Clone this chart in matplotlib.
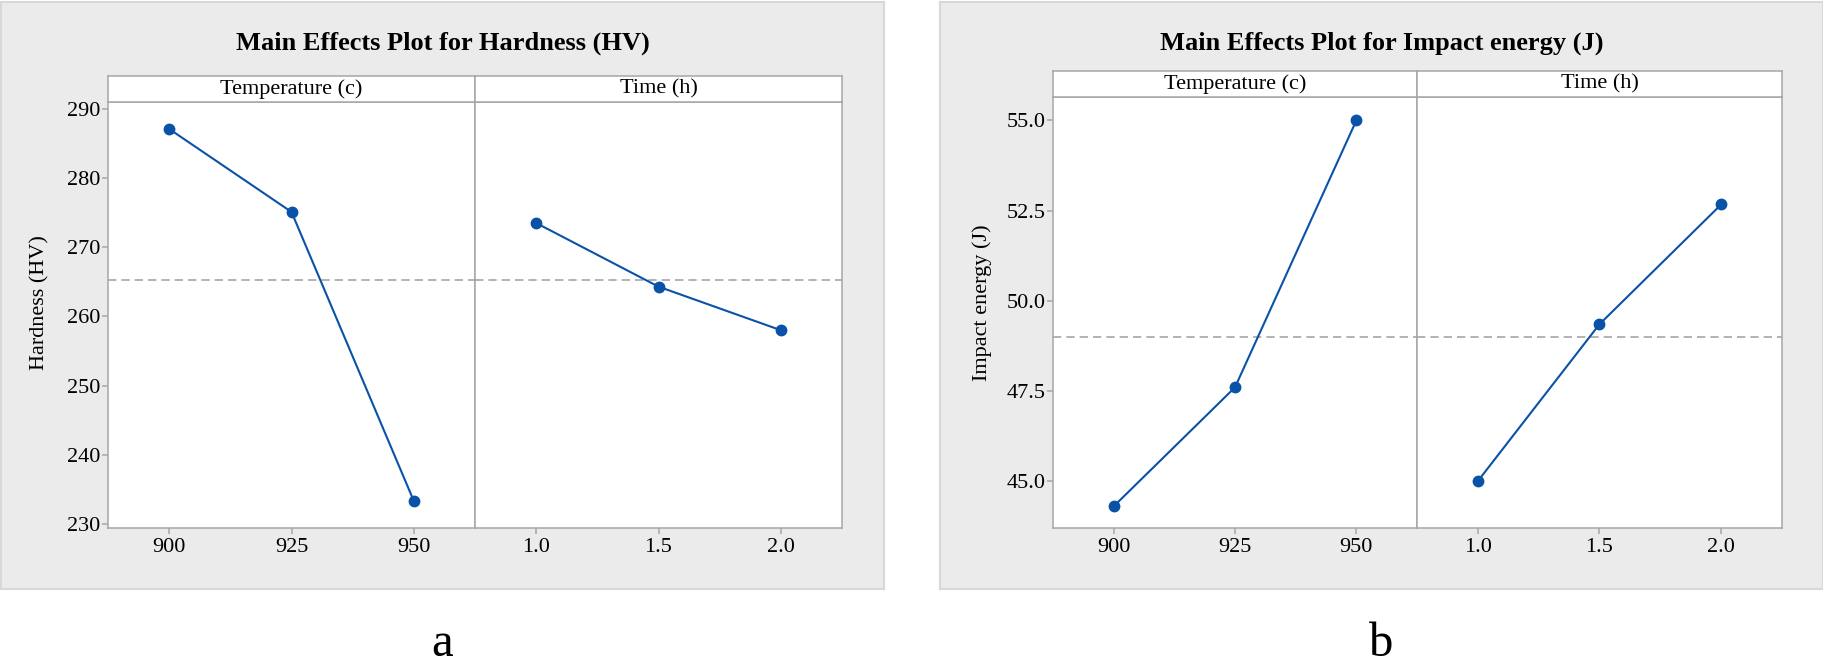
import numpy as np
import matplotlib.pyplot as plt
from matplotlib.patches import Rectangle

plt.rcParams['font.family'] = ['Liberation Serif', 'DejaVu Serif']

# data
temp_levels = [900, 925, 950]
time_levels = [1.0, 1.5, 2.0]
temp_labels = ['900', '925', '950']
time_labels = ['1.0', '1.5', '2.0']

hardness_temp = [287.1, 275.1, 233.3]
hardness_time = [273.5, 264.3, 258.0]
hardness_ticks = [230, 240, 250, 260, 270, 280, 290]
hardness_tick_labels = ['230', '240', '250', '260', '270', '280', '290']

impact_temp = [44.3, 47.6, 55.0]
impact_time = [45.0, 49.35, 52.67]
impact_ticks = [45.0, 47.5, 50.0, 52.5, 55.0]
impact_tick_labels = ['45.0', '47.5', '50.0', '52.5', '55.0']

W, H = 1824, 667
BLUE = '#0A52A8'
GREY = '#A6A6A6'
PANEL = '#EBEBEB'

fig = plt.figure(figsize=(W / 100, H / 100), dpi=100)


def px_axes(x0, y0, x1, y1):
    # pixel box (top-left origin) -> figure axes
    return fig.add_axes([x0 / W, 1 - y1 / H, (x1 - x0) / W, (y1 - y0) / H])


def style(ax):
    for s in ax.spines.values():
        s.set_color(GREY)
        s.set_linewidth(1.1)
    ax.tick_params(direction='out', length=4.3, width=1.1, color=GREY,
                   labelsize=16, labelcolor='black')
    ax.tick_params(axis='x', pad=3)
    ax.tick_params(axis='y', pad=1)


def draw_panel(gx0, gx1, x0, xdiv, x1, strip_top, strip_bot, bottom,
               title, ylabel, ylabel_x, t_vals, h_vals, ylim, yticks, ylabels, tag):
    fig.patches.append(Rectangle((gx0 / W, 1 - 589 / H), (gx1 - gx0) / W, 587 / H,
                                 transform=fig.transFigure, facecolor=PANEL,
                                 edgecolor='#D8D8D8', lw=1.5, zorder=-1))
    fig.text((gx0 + gx1) / 2 / W, 1 - 43 / H, title, ha='center', va='center',
             fontsize=19, fontweight='bold')

    mean = np.mean(t_vals + h_vals)

    ax1 = px_axes(x0, strip_bot, xdiv, bottom)
    ax2 = px_axes(xdiv, strip_bot, x1, bottom)
    for ax, xs, ys, lab, lim in [(ax1, temp_levels, t_vals, temp_labels, (887.5, 962.5)),
                                 (ax2, time_levels, h_vals, time_labels, (0.75, 2.25))]:
        ax.axhline(mean, color=GREY, lw=1.2, ls=(0, (5, 3)), zorder=1)
        ax.plot(xs, ys, color=BLUE, lw=1.5, marker='o', ms=7.5, zorder=3)
        ax.set_xlim(*lim)
        ax.set_ylim(*ylim)
        ax.set_xticks(xs)
        ax.set_xticklabels(lab)
        style(ax)
    ax1.set_yticks(yticks)
    ax1.set_yticklabels(ylabels)
    ax2.set_yticks(yticks)
    ax2.tick_params(axis='y', left=False, labelleft=False)

    for sx0, sx1, txt in [(x0, xdiv, 'Temperature (c)'), (xdiv, x1, 'Time (h)')]:
        sa = px_axes(sx0, strip_top, sx1, strip_bot)
        sa.set_xticks([])
        sa.set_yticks([])
        for s in sa.spines.values():
            s.set_color(GREY)
            s.set_linewidth(1.1)
        sa.text(0.5, 0.5, txt, ha='center', va='center', fontsize=16,
                transform=sa.transAxes)

    fig.text(ylabel_x / W, 1 - 303 / H, ylabel, rotation=90, ha='center',
             va='center', fontsize=16)
    fig.text((gx0 + gx1) / 2 / W, 1.5 / H, tag, ha='center', va='bottom',
             fontsize=35)


draw_panel(1, 884, 108, 475, 842, 76, 102, 528,
           'Main Effects Plot for Hardness (HV)', 'Hardness (HV)', 40,
           hardness_temp, hardness_time, (229.4, 291.0),
           hardness_ticks, hardness_tick_labels, 'a')

draw_panel(940, 1823, 1053, 1417, 1782, 71, 97, 528,
           'Main Effects Plot for Impact energy (J)', 'Impact energy (J)', 982,
           impact_temp, impact_time, (43.7, 55.65),
           impact_ticks, impact_tick_labels, 'b')

plt.savefig('out.png', dpi=100)
